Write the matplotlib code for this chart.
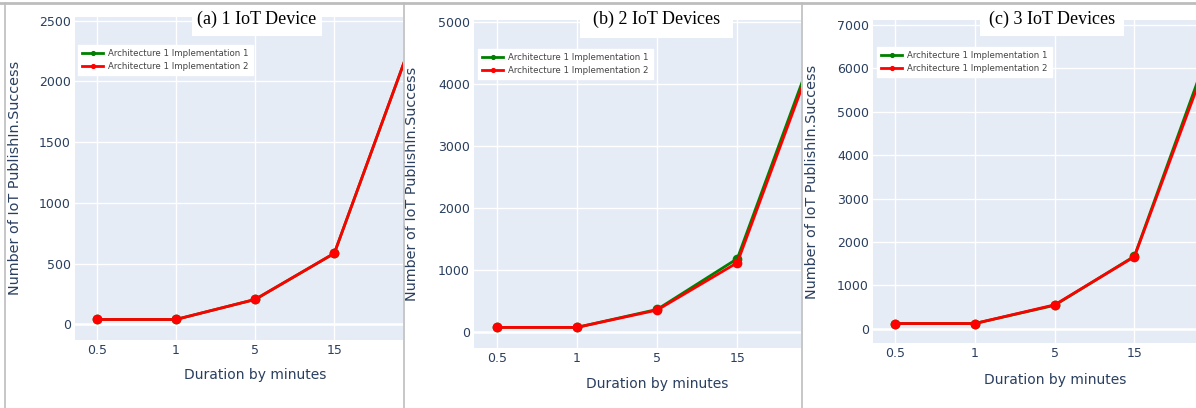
import numpy as np
import matplotlib
matplotlib.use('Agg')
from matplotlib import pyplot as plt
from matplotlib.patches import Rectangle
from matplotlib.lines import Line2D

# durations (categorical x axis), last one lies past the right edge
durations = ['0.5', '1', '5', '15', '30']

# PublishIn.Success counts per panel
one_impl1 = [40, 40, 205, 585, 2370]
one_impl2 = [40, 40, 205, 585, 2370]
two_impl1 = [70, 70, 360, 1180, 4710]
two_impl2 = [70, 70, 350, 1115, 4625]
three_impl1 = [120, 120, 540, 1670, 6760]
three_impl2 = [120, 120, 550, 1660, 6620]

titles = ['(a) 1 IoT Device', '(b) 2 IoT Devices', '(c) 3 IoT Devices']
yticks = [np.arange(0, 2501, 500), np.arange(0, 5001, 1000), np.arange(0, 7001, 1000)]

W, H = 1196, 408
txtcol = '#2a3f5f'
bg = '#E5ECF6'

# panel geometry in pixels: left, right, top, bottom
boxes = [(75, 403, 17, 340), (474, 801, 20, 348), (873, 1196, 20, 343)]
ylims = [(-129, 2531), (-263, 5035), (-329, 7115)]
xlims = [(-0.274, 3.867), (-0.283, 3.794), (-0.276, 3.772)]
ylab_pos = [(15, 178), (412, 184), (812, 182)]
xlab_pos = [(255, 375), (657, 384), (1055, 380)]
title_box = [(192, 322, 36), (580, 733, 38), (980, 1124, 36)]
leg_pos = [(78, 45), (478, 49), (877, 47)]

data = [(one_impl1, one_impl2), (two_impl1, two_impl2), (three_impl1, three_impl2)]

fig = plt.figure(figsize=(W/100, H/100), dpi=100)
fig.patch.set_facecolor('white')

x = np.arange(len(durations))

for i in range(3):
    l, r, t, b = boxes[i]
    ax = fig.add_axes([l/W, (H-b)/H, (r-l)/W, (b-t)/H])
    ax.set_facecolor(bg)
    for s in ax.spines.values():
        s.set_visible(False)
    ax.set_xticks(x)
    ax.set_xticklabels(durations)
    ax.set_yticks(yticks[i])
    ax.tick_params(length=0, labelsize=9, labelcolor=txtcol, pad=3)
    ax.grid(True, color='white', lw=1)
    ax.set_axisbelow(True)
    ax.axhline(0, color='white', lw=1.8, zorder=0.5)
    ax.set_xlim(*xlims[i])
    ax.set_ylim(*ylims[i])

    d1, d2 = data[i]
    ax.plot(x, d1, color='green', lw=2, marker='o', ms=6, label='Architecture 1 Implementation 1')
    ax.plot(x, d2, color='red', lw=2, marker='o', ms=6, label='Architecture 1 Implementation 2')

    lx, ly = leg_pos[i]
    leg = ax.legend(loc='upper left', bbox_to_anchor=((lx-l)/(r-l), 1-(ly-t)/(b-t)),
                    fontsize=6.2, frameon=True, fancybox=False, framealpha=1,
                    edgecolor='white', facecolor='white', borderpad=0.5,
                    handlelength=2.4, handletextpad=0.6, labelspacing=0.4,
                    markerscale=0.45, borderaxespad=0)
    for txt in leg.get_texts():
        txt.set_color('#444444')

    # axis titles
    fig.text(ylab_pos[i][0]/W, 1-ylab_pos[i][1]/H, 'Number of IoT PublishIn.Success',
             rotation=90, ha='center', va='center', fontsize=10.4, color=txtcol)
    fig.text(xlab_pos[i][0]/W, 1-xlab_pos[i][1]/H, 'Duration by minutes',
             ha='center', va='center', fontsize=10, color=txtcol)

    # white title plate
    x0, x1, yb = title_box[i]
    fig.add_artist(Rectangle((x0/W, 1-yb/H), (x1-x0)/W, yb/H, transform=fig.transFigure,
                             facecolor='white', edgecolor='none', zorder=5))
    fig.text((x0+x1)/2/W, 1-19/H, titles[i], ha='center', va='center',
             fontsize=13, family='Liberation Serif', color='black', zorder=6)

# grey frame lines between the panels
gc = '#bdbdbd'
fig.add_artist(Line2D([0, 1], [1-2.5/H, 1-2.5/H], color=gc, lw=2, transform=fig.transFigure, zorder=7))
fig.add_artist(Line2D([4.5/W, 4.5/W], [0, 1-2.5/H], color=gc, lw=1.2, transform=fig.transFigure, zorder=7))
for xs in [403.5, 802]:
    fig.add_artist(Line2D([xs/W, xs/W], [0, 1-2.5/H], color=gc, lw=1.2, transform=fig.transFigure, zorder=7))

fig.savefig('out.png', dpi=100)
